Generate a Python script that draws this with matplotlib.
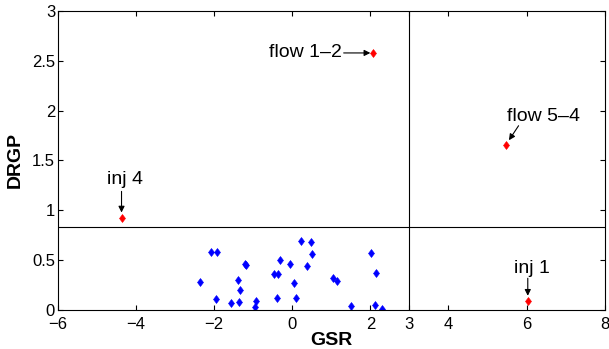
import matplotlib
matplotlib.use("Agg")
import matplotlib.pyplot as plt

plt.rcParams['font.family'] = ['Liberation Sans', 'DejaVu Sans']

# Blue points (GSR, DRGP)
blue_x = [-2.36, -2.08, -1.92, -1.95, -1.58, -1.40, -1.35, -1.33, -1.21, -1.19,
          -0.95, -0.92, -0.47, -0.36, -0.38, -0.31, -0.06, 0.035, 0.10, 0.23,
          0.47, 0.51, 0.39, 1.05, 1.15, 1.50, 2.02, 2.14, 2.12, 2.31]
blue_y = [0.277, 0.578, 0.575, 0.103, 0.066, 0.30, 0.073, 0.20, 0.457, 0.447,
          0.026, 0.09, 0.357, 0.357, 0.12, 0.50, 0.454, 0.27, 0.117, 0.685,
          0.678, 0.555, 0.434, 0.317, 0.29, 0.04, 0.568, 0.367, 0.05, 0.01]

# Red labelled points
red_labels = ['flow 1–2', 'flow 5–4', 'inj 4', 'inj 1']
red_x = [2.06, 5.46, -4.37, 6.03]
red_y = [2.58, 1.65, 0.92, 0.083]

# Threshold lines
gsr_threshold = 3
drgp_threshold = 0.83

x_ticks = [-6, -4, -2, 0, 2, 3, 4, 6, 8]
y_ticks = [0, 0.5, 1, 1.5, 2, 2.5, 3]

fig = plt.figure(figsize=(6.09, 3.49), dpi=100)
ax = fig.add_axes([0.095, 0.113, 0.898, 0.855])

ax.axvline(gsr_threshold, color='k', lw=0.8)
ax.axhline(drgp_threshold, color='k', lw=0.8)

ax.plot(blue_x, blue_y, linestyle='none', marker='d', markersize=4.4,
        color=(0, 0, 1), markeredgewidth=0.4)
ax.plot(red_x, red_y, linestyle='none', marker='d', markersize=4.4,
        color=(1, 0, 0), markeredgewidth=0.4)

# annotation layout (offsets in points relative to the labelled point)
arrow_start = [(-20.9, 0), (9.4, 14.2), (0, 19.2), (0, 16.6)]
text_off = [(-22.5, 0), (27, 21), (2.7, 27.6), (3.1, 23.8)]
text_ha = ['right', 'center', 'center', 'center']
shrink = [1.7, 4.5, 4, 4]

for lab, px, py, a, t, ha, s in zip(red_labels, red_x, red_y, arrow_start,
                                    text_off, text_ha, shrink):
    ax.annotate('', xy=(px, py), xytext=a, textcoords='offset points',
                arrowprops=dict(arrowstyle='-|>', color='k', lw=0.8,
                                mutation_scale=9, shrinkA=0, shrinkB=s))
    ax.annotate(lab, xy=(px, py), xytext=t, textcoords='offset points',
                ha=ha, va='center', fontsize=14)

ax.set_xlim(-6, 8)
ax.set_ylim(0, 3)
ax.set_xticks(x_ticks)
ax.set_yticks(y_ticks)
ax.set_xticklabels([str(v) if v >= 0 else '\u2212' + str(-v) for v in x_ticks])
ax.set_yticklabels(['0', '0.5', '1', '1.5', '2', '2.5', '3'])
ax.tick_params(direction='in', length=3.6, width=0.8, labelsize=12,
               top=True, right=True)
ax.tick_params(axis='x', pad=5)
ax.tick_params(axis='y', pad=2)
for sp in ax.spines.values():
    sp.set_linewidth(0.8)

ax.set_xlabel('GSR', fontsize=14, fontweight='bold', labelpad=0)
ax.set_ylabel('DRGP', fontsize=14, fontweight='bold', labelpad=6)

fig.savefig('out.png', dpi=100)
